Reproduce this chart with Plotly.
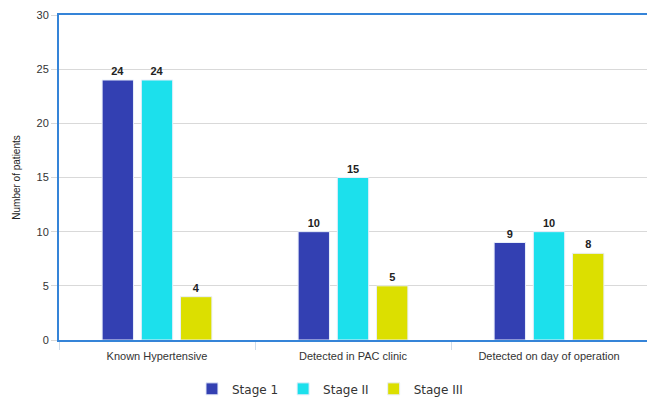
import plotly.graph_objects as go

categories = ["Known Hypertensive", "Detected in PAC clinic", "Detected on day of operation"]
series_names = ["Stage 1", "Stage II", "Stage III"]
stage1 = [24, 10, 9]
stage2 = [24, 15, 10]
stage3 = [4, 5, 8]
colors = ["#3340b2", "#1ce0ec", "#dcdf00"]
y_ticks = [0, 5, 10, 15, 20, 25, 30]

fig = go.Figure()
for name, vals, col in zip(series_names, [stage1, stage2, stage3], colors):
    fig.add_trace(go.Bar(
        x=categories, y=vals, name=name,
        marker=dict(color=col, line=dict(color="#e8eefa", width=1)),
        text=[str(v) for v in vals], textposition="outside",
        textfont=dict(family="Liberation Sans, Arial", size=11, color="#222"),
        texttemplate="<b>%{text}</b>", cliponaxis=False,
    ))

fig.update_layout(
    width=647, height=398,
    margin=dict(l=59, r=0, t=15, b=58),
    paper_bgcolor="white", plot_bgcolor="white",
    barmode="group", bargap=0.40, bargroupgap=0.2,
    showlegend=True,
    legend=dict(orientation="h", xref="container", yref="container",
                x=0.51, xanchor="center", y=0.023, yanchor="middle",
                font=dict(family="DejaVu Sans", size=12, color="#333"),
                itemwidth=30, traceorder="normal"),
    font=dict(family="Liberation Sans, Arial", size=11, color="#333"),
)
fig.update_xaxes(
    showline=True, linecolor="#3584d8", linewidth=2, mirror=True,
    ticks="outside", tickson="boundaries", ticklen=8, tickcolor="#cfdcea",
    tickfont=dict(size=11, color="#333"), showgrid=False, ticklabelstandoff=5,
)
fig.update_yaxes(
    range=[0, 30], tickvals=y_ticks, showline=True, linecolor="#3584d8", linewidth=2,
    showgrid=True, gridcolor="#d9d9d9", gridwidth=1,
    ticks="outside", ticklen=6, tickcolor="#d9d9d9",
    tickfont=dict(size=11, color="#333"), zeroline=False,
    title=dict(text="Number of patients", font=dict(size=10, color="#222"), standoff=14),
)
fig.write_html("out.html")
